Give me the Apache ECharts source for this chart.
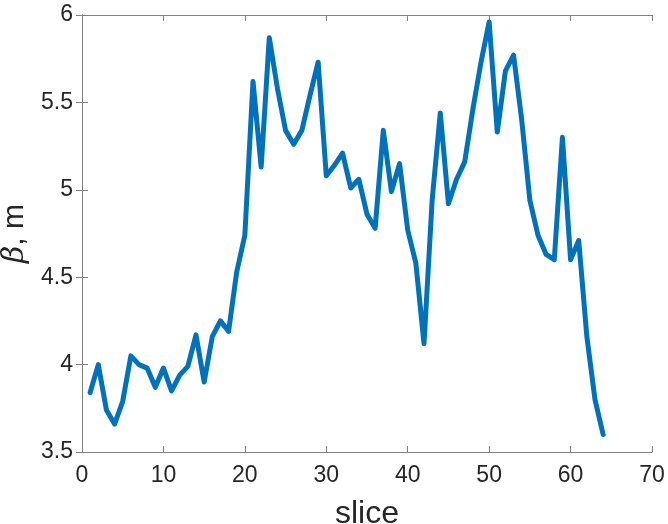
<!DOCTYPE html>
<html><head><meta charset="utf-8">
<script src="https://cdn.jsdelivr.net/npm/echarts@6/dist/echarts.min.js"></script>
<style>html,body{margin:0;padding:0;background:#fff}#c{width:668px;height:524px}</style>
</head><body><div id="c"></div>
<script>
const slices = [1,2,3,4,5,6,7,8,9,10,11,12,13,14,15,16,17,18,19,20,21,22,23,24,25,26,27,28,29,30,31,32,33,34,35,36,37,38,39,40,41,42,43,44,45,46,47,48,49,50,51,52,53,54,55,56,57,58,59,60,61,62,63,64];
const beta = [3.84,4.00,3.74,3.66,3.79,4.05,4.00,3.98,3.87,3.98,3.85,3.94,3.99,4.17,3.90,4.16,4.25,4.19,4.53,4.74,
  5.62,5.13,5.87,5.58,5.34,5.26,5.34,5.54,5.73,5.08,5.14,5.21,5.01,5.06,4.86,4.78,5.34,4.99,5.15,4.77,
  4.58,4.12,4.94,5.44,4.92,5.06,5.16,5.46,5.73,5.96,5.33,5.68,5.77,5.40,4.94,4.74,4.63,4.60,5.30,4.60,
  4.71,4.16,3.80,3.60];
const xTicks = [0,10,20,30,40,50,60,70];
const yTicks = ['3.5','4','4.5','5','5.5','6'];
const font = 'Liberation Sans, Arial, Helvetica, sans-serif';
const chart = echarts.init(document.getElementById('c'), null, {renderer:'canvas'});
const axisLine = {show:true, lineStyle:{color:'#808080', width:1}};
const tick = {show:true, inside:true, length:6, lineStyle:{color:'#808080'}};
chart.setOption({
  animation:false,
  grid:{left:82, right:16, top:15, bottom:72, containLabel:false, outerBoundsMode:'none'},
  xAxis:[{
    type:'value', min:0, max:70, interval:10, position:'bottom',
    axisLine:axisLine, axisTick:tick, splitLine:{show:false},
    axisLabel:{color:'#262626', fontSize:23, fontFamily:font, margin:12,
      formatter:function(v){ const t = xTicks.indexOf(v); return t>=0 ? String(xTicks[t]) : ''; }},
    name:'slice', nameLocation:'middle', nameGap:46,
    nameTextStyle:{color:'#262626', fontSize:32, fontFamily:font}
  },{
    type:'value', min:0, max:70, interval:10, position:'top',
    axisLine:axisLine, axisTick:tick, splitLine:{show:false}, axisLabel:{show:false}
  }],
  yAxis:[{
    type:'value', min:3.5, max:6, interval:0.5, position:'left',
    axisLine:axisLine, axisTick:tick, splitLine:{show:false},
    axisLabel:{color:'#262626', fontSize:23, fontFamily:font, margin:9,
      formatter:function(v){ const i = Math.round((v-3.5)/0.5); return yTicks[i] || ''; }},
    name:'{b|β}, m', nameLocation:'middle', nameGap:46, nameRotate:90,
    nameTextStyle:{color:'#262626', fontSize:30, fontFamily:font,
      rich:{b:{fontStyle:'italic', fontSize:30, fontFamily:'DejaVu Serif, serif', color:'#262626'}}}
  },{
    type:'value', min:3.5, max:6, interval:0.5, position:'right',
    axisLine:axisLine, axisTick:tick, splitLine:{show:false}, axisLabel:{show:false}
  }],
  series:[{
    type:'line', xAxisIndex:0, yAxisIndex:0,
    data: slices.map((s,i)=>[s, beta[i]]),
    showSymbol:false, symbol:'none',
    lineStyle:{color:'#0072BD', width:5, join:'round', cap:'round'}
  }]
});
</script></body></html>
